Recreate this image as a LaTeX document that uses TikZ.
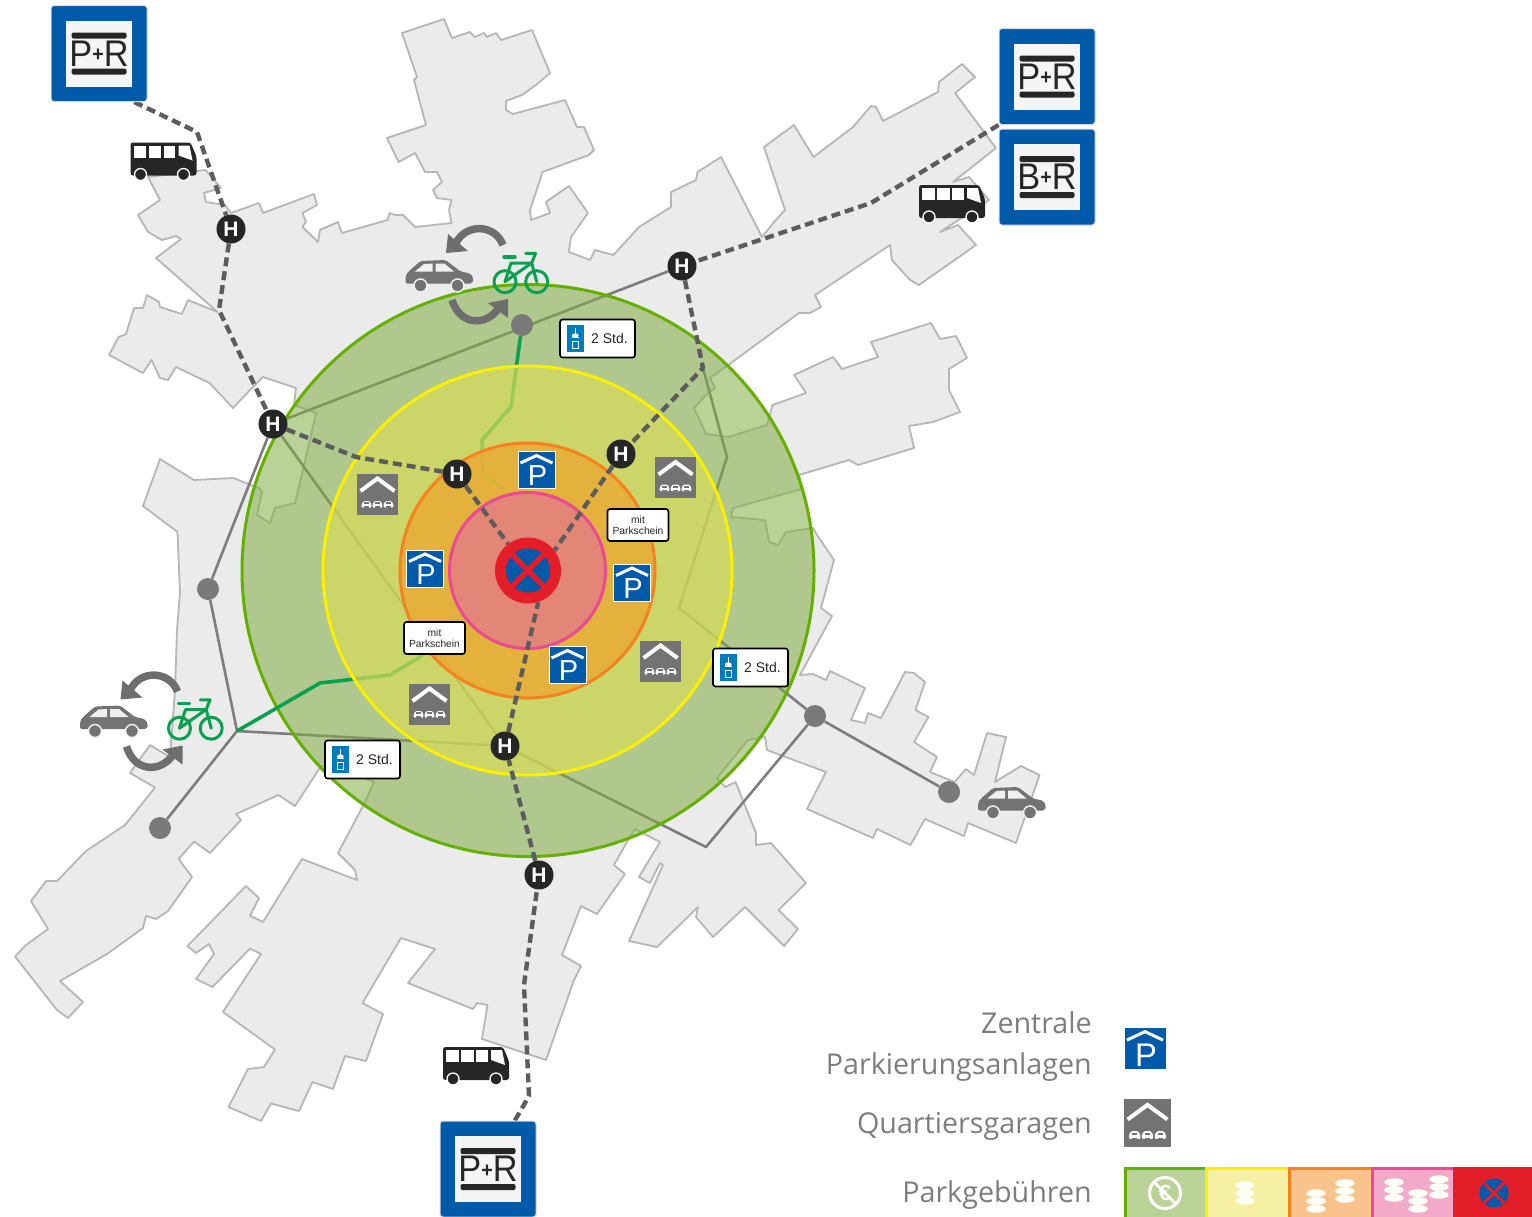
\documentclass[tikz,border=0pt]{standalone}
\usepackage{fontspec}
\usepackage{graphicx}
\setmainfont{Liberation Sans}
\newfontfamily\legfont{Open Sans}
\pgfdeclarelayer{citylayer}
\pgfdeclarelayer{roadlayer}
\pgfdeclarelayer{outerlayer}
\pgfdeclarelayer{bikelayer}
\pgfdeclarelayer{innerlayer}
\pgfdeclarelayer{linelayer}
\pgfsetlayers{citylayer,roadlayer,outerlayer,bikelayer,innerlayer,linelayer,main}
\definecolor{citygray}{RGB}{235,235,235}
\definecolor{cityedge}{RGB}{182,182,182}
\definecolor{roadgray}{RGB}{125,125,125}
\definecolor{dotgray}{RGB}{122,122,122}
\definecolor{busline}{RGB}{92,92,92}
\definecolor{bikegreen}{RGB}{10,160,80}
\definecolor{signblue}{RGB}{0,90,170}
\definecolor{signgray}{RGB}{115,115,115}
\definecolor{inkblack}{RGB}{38,38,38}
\definecolor{arrowgray}{RGB}{110,110,110}
\definecolor{cfgreen}{RGB}{129,173,67}
\definecolor{cfyellow}{RGB}{217,219,89}
\definecolor{cforange}{RGB}{234,169,51}
\definecolor{cfpink}{RGB}{228,124,134}
\definecolor{csgreen}{RGB}{100,175,0}
\definecolor{csyellow}{RGB}{250,240,0}
\definecolor{csorange}{RGB}{245,130,30}
\definecolor{cspink}{RGB}{232,75,145}
\definecolor{signred}{RGB}{227,30,40}
\definecolor{legtext}{RGB}{125,125,125}
\tikzset{
  citystyle/.style={fill=citygray,draw=cityedge,line width=1.8pt,line join=round},
  roadstyle/.style={draw=roadgray,line width=2.6pt,line join=round},
  bikestyle/.style={draw=bikegreen,line width=3.6pt,line join=round},
  busstyle/.style={draw=busline,line width=4.4pt,dash pattern=on 9pt off 5pt,line join=round},
  hstop/.style={circle,fill=inkblack,text=white,minimum size=29pt,inner sep=0pt,font=\bfseries\fontsize{21}{21}\selectfont},
  graydot/.style={circle,fill=dotgray,minimum size=22pt,inner sep=0pt},
  prbox/.style={rectangle,rounded corners=3pt,fill=signblue,draw=black!15,line width=1pt,minimum size=96pt,inner sep=0pt},
  pbox/.style={rectangle,fill=signblue,draw=white,line width=.6pt,inner sep=0pt},
  qbox/.style={rectangle,fill=signgray,inner sep=0pt},
  plate/.style={rectangle,rounded corners=2.5pt,fill=white,draw=black,line width=1.6pt,inner sep=0pt},
  legstyle/.style={font=\legfont\fontsize{28.7}{28.7}\selectfont,text=legtext,inner sep=0pt},
  bikeline/.style={draw=bikegreen,line width=3pt,line cap=round,line join=round},
}
\newcommand{\plusmark}{\raisebox{4.5pt}{\fontsize{20}{20}\selectfont\bfseries +}}
\newcommand{\prsign}[4]{%
  \node[prbox] (#1) at (#2,#3) {};
  \begin{scope}[shift={(#2,#3)}]
    \fill[white!96!black] (-33,-33) rectangle (33,33);
    \fill[inkblack,rounded corners=2pt] (-27.5,-21) rectangle (27.5,-15);
    \fill[inkblack,rounded corners=2pt] (-27.5,15) rectangle (27.5,21);
    \node[inner sep=0pt,text=inkblack] (#1-t) at (0,0) {\scalebox{.98}[1.06]{\fontsize{35}{35}\selectfont #4}};
  \end{scope}}
\newcommand{\psign}[4]{%
  \node[pbox,minimum size=#4*37pt] (#1) at (#2,#3) {};
  \begin{scope}[shift={(#2,#3)},scale=#4,every node/.style={transform shape}]
    \draw[white,line width=3pt,line join=miter] (-16,-7) -- (0,-14.5) -- (16,-7);
    \node[inner sep=0pt,text=white] (#1-t) at (1,6) {\fontsize{29}{29}\selectfont P};
  \end{scope}}
\newcommand{\minicar}[1]{%
  \fill[white,rounded corners=1pt] (#1-4.8,13.5) -- (#1-4.8,10) -- (#1-2.8,7) -- (#1+2.8,7) -- (#1+4.8,10) -- (#1+4.8,13.5) -- cycle;
  \fill[signgray] (#1-2.2,8.2) rectangle (#1+2.2,10.2);
  \fill[signgray] (#1-2.4,12.4) rectangle (#1+2.4,13.8);}
\newcommand{\qsign}[4]{%
  \node[qbox,minimum size=#4*41pt] (#1) at (#2,#3) {};
  \begin{scope}[shift={(#2,#3)},scale=#4]
    \draw[white,line width=4pt,line join=miter] (-17,-3) -- (0,-15.5) -- (17,-3);
    \minicar{-11}\minicar{0}\minicar{11}
  \end{scope}}
\newcommand{\stdsign}[3]{%
  \node[plate,minimum width=75pt,minimum height=38pt] (#1) at (#2,#3) {};
  \begin{scope}[shift={(#2,#3)}]
    \fill[signblue!80!cyan] (-30.5,-13.5) rectangle (-14,13.5);
    \fill[white] (-22.2,-3) ellipse (3.4 and 2.2);
    \draw[white,line width=.7pt] (-22.2,-11) -- (-22.2,-5) (-26,-1) -- (-18.5,-1) (-25,3) rectangle (-19.5,10);
    \node[inner sep=0pt,text=inkblack] (#1-t) at (12,0) {\fontsize{14}{14}\selectfont 2 Std.};
  \end{scope}}
\newcommand{\mitsign}[3]{%
  \node[plate,minimum width=61pt,minimum height=32pt] (#1) at (#2,#3) {};
  \node[inner sep=0pt,text=inkblack,align=center,font=\fontsize{10.3}{11}\selectfont] (#1-t) at (#2,#3) {mit\\Parkschein};}
\newcommand{\caricon}[2]{%
  \begin{scope}[shift={(#1,#2)}]
    \fill[signgray,rounded corners=2pt] (-34,8) -- (-34,0) -- (-31,-4) -- (-19,-14.5) -- (6,-15.5) -- (21,-4) -- (31,-2) -- (34,3) -- (33,8) -- cycle;
    \fill[white!94!black] (-15.5,-11.5) -- (-7,-12) -- (-7,-4) -- (-24.5,-4) -- cycle;
    \fill[white!94!black] (-4,-12) -- (5,-12) -- (14.5,-4) -- (-4,-4) -- cycle;
    \filldraw[fill=signgray,draw=white!94!black,line width=1.5pt] (-19,10) circle[radius=6.5] (18,10) circle[radius=6.5];
  \end{scope}}
\newcommand{\busicon}[2]{%
  \begin{scope}[shift={(#1,#2)}]
    \fill[inkblack,rounded corners=2.5pt] (-33,-19) -- (27,-19) -- (33,-5) -- (33,14) -- (-33,14) -- cycle;
    \fill[white] (-30,-16) rectangle (-17.5,-4);
    \fill[white] (-15,-16) rectangle (-2.5,-4);
    \fill[white] (0,-16) rectangle (11.5,-4);
    \fill[white] (15,-16) -- (26,-16) -- (29,-1) -- (15,-6) -- cycle;
    \filldraw[fill=inkblack,draw=white,line width=1.3pt] (-23,13) circle[radius=6] (20,13) circle[radius=6];
  \end{scope}}
\newcommand{\bikeicon}[2]{%
  \begin{scope}[shift={(#1,#2)}]
    \draw[bikeline] (-16,9.7) circle[radius=11] (15.7,9.7) circle[radius=11];
    \draw[bikeline] (-16,9.7) -- (-10,-9) -- (10.7,-9) -- (15.7,9.7);
    \draw[bikeline] (10.7,-9) -- (-16,9.7);
    \draw[bikeline] (4.7,-18.7) -- (14.5,-18.7) -- (10.7,-9);
    \draw[bikeline,line width=3.4pt] (-17,-15) -- (-6,-15);
  \end{scope}}
\newcommand{\cyclearrows}[2]{%
  \begin{scope}[shift={(#1,#2)}]
    \draw[arrowgray,line width=7.5pt] (503,245) .. controls (495,224) and (466,223) .. (456,243);
    \fill[arrowgray] (446,253) -- (448,234) -- (468,251) -- cycle;
    \draw[arrowgray,line width=7.5pt] (452,300) .. controls (460,326) and (486,326) .. (498,309);
    \fill[arrowgray] (508,318) -- (508,299) -- (488,303) -- cycle;
  \end{scope}}
\newcommand{\coinstack}[2]{%
  \begin{scope}[shift={(#1,#2)}]
    \fill[white!97!yellow] (0,7.8) ellipse (9.7 and 3.9);
    \fill[white!97!yellow] (0,0) ellipse (9.7 and 3.9);
    \fill[white!97!yellow] (0,-7.8) ellipse (9.7 and 3.9);
    \fill[white!97!yellow] (-7,-7.8) rectangle (7,-5) (-7,-1.5) rectangle (7,1.5) (-7,5) rectangle (7,7.8);
  \end{scope}}
\begin{document}
\begin{tikzpicture}[x=1pt,y=-1pt]
\useasboundingbox (0,0) rectangle (1532,1216);
% ---------- nodes on the main layer
\node[hstop] (h1) at (231,229) {H};
\node[hstop] (h2) at (273,424) {H};
\node[hstop] (h3) at (682,266) {H};
\node[hstop] (h4) at (457,474) {H};
\node[hstop] (h5) at (621,454) {H};
\node[hstop] (h6) at (505,746) {H};
\node[hstop] (h7) at (539,875) {H};
\node[graydot] (d0) at (522,325) {};
\node[graydot] (d1) at (208,589) {};
\node[graydot] (d2) at (160,828) {};
\node[graydot] (d3) at (815,716) {};
\node[graydot] (d4) at (949,792) {};
\coordinate (w1) at (197,132);
\coordinate (w2) at (219,310);
\coordinate (w3) at (356,457);
\coordinate (w4) at (871,203);
\coordinate (w5) at (703,368);
\coordinate (w6) at (529,1096);
\coordinate (w7) at (524,985);
\coordinate (r1) at (237,731);
\coordinate (r2) at (706,847);
\coordinate (r3) at (679,608);
\coordinate (r4) at (727,457);
% centre sign
\node[circle,fill=signred,minimum size=66pt,inner sep=0pt] (cc) at (528,570.5) {};
\fill[signblue] (cc.center) circle[radius=22];
\draw[signred,line width=5.5pt] ([shift={(-18,-18)}]cc.center) -- ([shift={(18,18)}]cc.center);
\draw[signred,line width=5.5pt] ([shift={(-18,18)}]cc.center) -- ([shift={(18,-18)}]cc.center);
% P+R
\prsign{pr1}{99}{53.5}{P\plusmark R}
\prsign{pr2}{1047}{76.5}{P\plusmark R}
\prsign{pr3}{1047}{177}{B\plusmark R}
\prsign{pr4}{488}{1169}{P\plusmark R}
% parking signs
\psign{p1}{536.5}{470}{1}
\psign{p2}{425}{568.5}{1}
\psign{p3}{632}{582.5}{1}
\psign{p4}{567.5}{665}{1}
\qsign{q1}{377.5}{494}{1}
\qsign{q2}{675.5}{477.5}{1}
\qsign{q3}{660.5}{661}{1}
\qsign{q4}{429.5}{704}{1}
\stdsign{s1}{597.5}{338.5}
\stdsign{s2}{750.5}{667.5}
\stdsign{s3}{362.5}{759.5}
\mitsign{m1}{638}{525}
\mitsign{m2}{434.5}{638}
% icons
\busicon{163.5}{161.5}
\busicon{952}{204}
\busicon{476}{1066}
\caricon{439.5}{275.5}
\caricon{114}{721}
\caricon{1012}{802.5}
\bikeicon{521}{272}
\bikeicon{195.5}{718.5}
\cyclearrows{0}{0}
\cyclearrows{-325.5}{446.5}
% legend
\node[legstyle,anchor=base east] (l1) at (1092,1033) {Zentrale};
\node[legstyle,anchor=base east] (l2) at (1092,1074) {Parkierungsanlagen};
\node[legstyle,anchor=base east] (l3) at (1092,1133) {Quartiersgaragen};
\node[legstyle,anchor=base east] (l4) at (1092,1202) {Parkgebühren};
\psign{lp}{1145}{1048}{1.13}
\qsign{lq}{1147.5}{1123}{1.17}
\begin{scope}
  \clip (1100,1150) rectangle (1532,1216);
  \filldraw[fill={rgb,255:red,187;green,210;blue,150},draw=csgreen,line width=3pt] (1125.5,1168.5) rectangle (1206,1230);
  \filldraw[fill={rgb,255:red,246;green,240;blue,165},draw=csyellow,line width=3pt] (1206.5,1168.5) rectangle (1289,1230);
  \filldraw[fill={rgb,255:red,248;green,195;blue,140},draw=csorange,line width=3pt] (1289.5,1168.5) rectangle (1372,1230);
  \filldraw[fill={rgb,255:red,243;green,170;blue,200},draw=cspink,line width=3pt] (1372.5,1168.5) rectangle (1454,1230);
  \fill[signred] (1453,1167) rectangle (1532,1230);
\end{scope}
\draw[white,line width=3pt] (1165,1193) circle[radius=15.5];
\node[inner sep=0pt,text=white] (euro) at (1165,1193) {\fontsize{22}{22}\selectfont\bfseries €};
\draw[white,line width=2.5pt] (1154,1182) -- (1176,1204);
\coinstack{1245}{1193}
\coinstack{1316}{1201}
\coinstack{1345}{1191}
\coinstack{1394}{1190}
\coinstack{1418}{1201}
\coinstack{1439}{1187}
\fill[signblue] (1494,1193) circle[radius=14.5];
\draw[signred,line width=3pt] (1484,1183) -- (1504,1203) (1484,1203) -- (1504,1183);
% ---------- city
\begin{pgfonlayer}{citylayer}
\filldraw[citystyle]
 (402,33) -- (444,19) -- (452,38) -- (470,32) -- (474.5,37) -- (484,33) -- (487,37) -- (496,33) -- (501,40) -- (532,30) -- (550,73) -- (536,85) -- (522,95) -- (506,101) -- (506,110) -- (513,114) -- (565,100) -- (577,127) -- (584,127) -- (594,150) -- (589,155) -- (542.5,172) -- (540,180) -- (530,210) -- (531,220) -- (550,213) -- (546,202) -- (569,186) -- (588,213) -- (571,237) -- (569,252) -- (590,260) -- (595,250) -- (613.5,255) -- (639,227) -- (671,207) -- (671,192) -- (696,180) -- (697.5,172) -- (721,157) -- (762,237) -- (774,222) -- (785,210) -- (764,147) -- (794,125) -- (813.5,157) -- (853,127) -- (871,106) -- (876,107) -- (883,121) -- (938,92) -- (939,82) -- (962,64) -- (975,77) -- (955,93) -- (996,148) -- (953,182) -- (969,177) -- (989,200) -- (940,232) -- (958,225) -- (976,245) -- (919,285) -- (910,280) -- (892,260) -- (890,245) -- (815,295) -- (821,307) -- (810,313) -- (799,313) -- (731,363) -- (710,378) -- (715,388) -- (706,395) -- (694,408) -- (706,434) -- (728,437) -- (767,425) -- (772.5,405) -- (806,393) -- (794,375) -- (833,357) -- (842,369) -- (878,357) -- (871,342) -- (931,323) -- (940,339) -- (956,336) -- (967,358) -- (949,369) -- (949,390) -- (960,412) -- (933,422) -- (909,426) -- (914,448) -- (858,465) -- (849,460) -- (799,475) -- (802,489) -- (733,508) -- (731,517) -- (765,520) -- (769,542) -- (778,545) -- (786,532) -- (813,528) -- (817,535) -- (834,560) -- (821,608) -- (832,616) -- (800,675) -- (813,674) -- (826,680) -- (830,671) -- (865,688) -- (851,720) -- (865,723) -- (868,713) -- (881,718) -- (905,672) -- (914,673) -- (925,682) -- (915.5,710) -- (928.5,717) -- (914,742) -- (937,757) -- (930,772) -- (954.5,782) -- (966,769) -- (974,775) -- (987,733) -- (1006,737) -- (995,782) -- (1021,766) -- (1039.5,775) -- (1016,843) -- (968,823) -- (964,836) -- (925,819) -- (910.5,845) -- (877,829) -- (873,838) -- (807,809) -- (826,772) -- (767,750) -- (765,737) -- (748,740) -- (717,778) -- (725,787) -- (735.6,782) -- (756,833) -- (756,845) -- (771,843) -- (806,883) -- (778.5,910) -- (798,929) -- (784,946) -- (745,907) -- (713,937) -- (696,917) -- (698,907) -- (657,947) -- (629,941) -- (663,865) -- (660,863) -- (650,883) -- (639,877) -- (660,842) -- (635,829) -- (627,842) -- (614,865) -- (625,874) -- (597,914) -- (581,906) -- (562,955) -- (581,966) -- (574,980) -- (546,1060) -- (482,1039) -- (487.5,1005) -- (477,1003) -- (473,1009) -- (408,983) -- (435,949) -- (401,938) -- (362.5,1003) -- (383,1014) -- (366,1061) -- (345,1056) -- (333,1089) -- (312.5,1082) -- (299,1111) -- (271,1103.5) -- (261,1121) -- (228.5,1107) -- (248,1069) -- (264,1067) -- (275,1049.5) -- (223,1012) -- (261,954) -- (250,948.5) -- (212.5,987) -- (196,979) -- (214,954) -- (209,944) -- (196,953) -- (187.5,946) -- (246,886) -- (259,898) -- (250,915.7) -- (263,922) -- (302,859) -- (357,880) -- (355,870) -- (338,853) -- (364,804) -- (374,782) -- (350,772) -- (321,766) -- (295,806) -- (278.5,795) -- (236,814) -- (241,820) -- (210,853) -- (194,841.5) -- (178.6,859) -- (192,877) -- (168,911) -- (156,919) -- (146,916) -- (143,928) -- (107,954) -- (60,981) -- (83,1002) -- (68,1018) -- (57,1010) -- (15,956.5) -- (26,945) -- (48,929) -- (31,901) -- (46,881) -- (57,881) -- (86,851) -- (104,839) -- (125,825) -- (155,787.5) -- (130,773) -- (150,745) -- (170,757) -- (175,691) -- (177,630) -- (180,593) -- (177.5,532) -- (143,506) -- (160,459) -- (194,480) -- (233,478) -- (259,488) -- (262,492) -- (257,515) -- (270,523) -- (275,508) -- (295,503) -- (310,440) -- (316,413) -- (294,405) -- (296,388) -- (263,377) -- (253,387) -- (233,408) -- (209.5,383) -- (176,367) -- (168,380) -- (160,378) -- (151.5,360) -- (143,373) -- (109,355) -- (118.6,337) -- (126,334) -- (134,308) -- (143,308) -- (147,295) -- (159,302) -- (160,307) -- (182,314) -- (188,300) -- (217.5,312) -- (156,258) -- (181,239) -- (176,236) -- (162,240) -- (148,232) -- (138,215) -- (160,200) -- (148,177) -- (205.6,170) -- (221,188) -- (204,193) -- (206,202) -- (225,205) -- (231,213) -- (259,203) -- (263,213) -- (314,194) -- (317,205) -- (302.5,213) -- (306,222) -- (302.5,227) -- (318,242) -- (320,230) -- (338,222) -- (342,233) -- (387.5,220) -- (389.5,213) -- (395,215) -- (403,215) -- (415,227) -- (451.5,223) -- (449,210) -- (451.5,200) -- (437,198) -- (433,190) -- (442,182) -- (437,172) -- (425,172) -- (415,153) -- (398.6,162) -- (387,138) -- (426,125) -- (414,80) -- (417,77) -- cycle;
\end{pgfonlayer}
% ---------- roads
\begin{pgfonlayer}{roadlayer}
\draw[roadstyle] (h2) -- (h3);
\draw[roadstyle] (h2) -- (d1) -- (r1) -- (d2);
\draw[roadstyle] (r1) -- (h6);
\draw[roadstyle] (h2) -- (h6);
\draw[roadstyle] (h6) -- (r2) -- (d3) -- (d4);
\draw[roadstyle] (w5) -- (r4) -- (r3) -- (d3);
\end{pgfonlayer}
% ---------- rings
\begin{pgfonlayer}{outerlayer}
\filldraw[fill=cfgreen,fill opacity=.55,draw=csgreen,line width=3pt] (528,570.5) circle[radius=286];
\end{pgfonlayer}
\begin{pgfonlayer}{bikelayer}
\coordinate (g1) at (511,407);
\coordinate (g2) at (482,440);
\coordinate (g3) at (483,473);
\coordinate (g4) at (520,503);
\coordinate (g5) at (533,517);
\coordinate (g6) at (530,537);
\coordinate (g7) at (320,683);
\coordinate (g8) at (390,675);
\coordinate (g9) at (420,657);
\coordinate (g10) at (460,617);
\coordinate (g11) at (477,587);
\coordinate (g12) at (493,583);
\coordinate (g13) at (503,580);
\draw[bikestyle] (d0) -- (g1) -- (g2) -- (g3) -- (g4) -- (g5) -- (g6);
\draw[bikestyle] (r1) -- (g7) -- (g8) -- (g9) -- (g10) -- (g11) -- (g12) -- (g13);
\end{pgfonlayer}
\begin{pgfonlayer}{innerlayer}
\filldraw[fill=cfyellow,fill opacity=.7,draw=csyellow,line width=3pt] (527.5,570.5) circle[radius=204.5];
\filldraw[fill=cforange,fill opacity=.8,draw=csorange,line width=3pt] (527.5,570.5) circle[radius=127.5];
\filldraw[fill=cfpink,fill opacity=.8,draw=cspink,line width=3pt] (527.5,570.5) circle[radius=78];
\end{pgfonlayer}
% ---------- bus lines
\begin{pgfonlayer}{linelayer}
\draw[busstyle] (pr1.-54) -- (w1) -- (h1);
\draw[busstyle] (h1) -- (w2) -- (h2);
\draw[busstyle] (h2) -- (w3) -- (h4);
\draw[busstyle] (h4) -- (cc.127);
\draw[busstyle] (pr2.south west) -- (w4) -- (h3);
\draw[busstyle] (h3) -- (w5) -- (h5);
\draw[busstyle] (h5) -- (cc.37);
\draw[busstyle] (pr4.61) -- (w6) -- (w7) -- (h7);
\draw[busstyle] (h7) -- (h6);
\draw[busstyle] (h6) -- (cc.-72);
\end{pgfonlayer}
\end{tikzpicture}
\end{document}
